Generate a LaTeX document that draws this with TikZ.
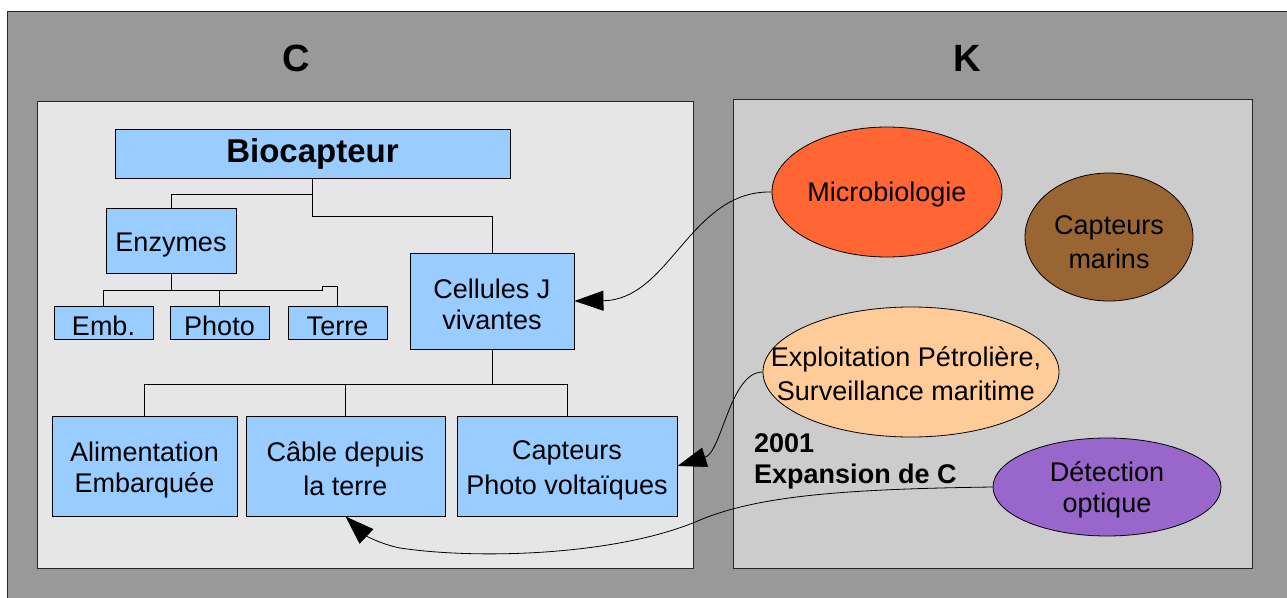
\documentclass[tikz,border=0pt]{standalone}
\usepackage{fontspec}
\setmainfont{Liberation Sans}
\usetikzlibrary{shapes.geometric,arrows.meta,calc}
\definecolor{outerg}{HTML}{999999}
\definecolor{cboxg}{HTML}{E6E6E6}
\definecolor{kboxg}{HTML}{CCCCCC}
\definecolor{boxblue}{HTML}{99CCFF}
\definecolor{microc}{HTML}{FF6633}
\definecolor{brownc}{HTML}{996633}
\definecolor{peachc}{HTML}{FFCC99}
\definecolor{purplec}{HTML}{9966CC}
\newcommand{\lst}{\rule[-3pt]{0pt}{31pt}}
\begin{document}
\begin{tikzpicture}[x=1pt,y=-1pt,
  txt/.style={font=\fontsize{27}{31}\selectfont, align=center, inner sep=0pt},
  bluebox/.style={draw=black, line width=0.9pt, fill=boxblue, txt},
  blob/.style={ellipse, draw=black, line width=0.8pt, inner sep=0pt},
  tree/.style={draw=black, line width=0.9pt},
  link/.style={draw=black, line width=0.8pt, -{Triangle[length=29pt,width=20pt]}},
  title/.style={font=\fontsize{38}{40}\selectfont\bfseries},
  panel/.style={draw=black!85, line width=1pt}
]
\useasboundingbox (0,0) rectangle (1287,597);
% outer frame
\fill[outerg, draw=black!85, line width=1pt] (7,11) rectangle (1300,610);
% panels
\filldraw[panel, fill=cboxg] (37,101) rectangle (693,568);
\filldraw[panel, fill=kboxg] (733,99) rectangle (1252,568);
% titles
\node[title] (tC) at (296,58) {C};
\node[title] (tK) at (967,58) {K};
% tree nodes
\node[bluebox, minimum width=395pt, minimum height=49pt, font=\fontsize{33}{36}\selectfont\bfseries] (bio) at (312.5,153.5) {Biocapteur};
\node[bluebox, minimum width=130pt, minimum height=65pt] (enz) at (171,240.5) {\lst Enzymes};
\node[bluebox, minimum width=99pt, minimum height=33pt] (emb) at (103.5,322.5) {\lst Emb.};
\node[bluebox, minimum width=99pt, minimum height=33pt] (pho) at (219.5,322.5) {\lst Photo};
\node[bluebox, minimum width=99pt, minimum height=33pt] (ter) at (337.5,322.5) {\lst Terre};
\node[bluebox, minimum width=164pt, minimum height=96pt] (cel) at (492,301) {\lst Cellules J\\\lst vivantes};
\node[bluebox, minimum width=185pt, minimum height=100pt] (ali) at (144.5,466) {\lst Alimentation\\\lst Embarquée};
\node[bluebox, minimum width=199pt, minimum height=100pt] (cab) at (345.5,466) {\lst Câble depuis\\\lst la terre};
\node[bluebox, minimum width=220pt, minimum height=100pt] (cap) at (567,466) {\lst Capteurs\\\lst Photo voltaïques};
% tree connectors
\draw[tree] (bio.south) -- ++(0,16) -| (enz.north);
\draw[tree] (bio.south) -- ++(0,38) -| (cel.north);
\draw[tree] (enz.south) -- ++(0,17) -| (emb.north);
\draw[tree] (enz.south) ++(0,17) -| (pho.north);
\draw[tree] (enz.south) ++(0,17) -- ++(151,0) -- ++(0,-4) -| (ter.north);
\draw[tree] (cel.south) -- ++(0,35) -| (ali.north);
\draw[tree] (cel.south) ++(0,35) -| (cab.north);
\draw[tree] (cel.south) ++(0,35) -| (cap.north);
% K ellipses
\node[blob, fill=microc, minimum width=230pt, minimum height=130pt] (mic) at (887,192) {};
\node[txt] (mict) at (887,190) {\lst Microbiologie};
\node[blob, fill=brownc, minimum width=168pt, minimum height=128pt] (mar) at (1109,237) {};
\node[txt] (mart) at (1109,239) {\lst Capteurs\\\lst marins};
\node[blob, fill=peachc, minimum width=296pt, minimum height=130pt] (exp) at (911,372) {};
\node[txt] (expt) at (906,371) {\lst Exploitation Pétrolière,\\\lst Surveillance maritime};
\node[blob, fill=purplec, minimum width=228pt, minimum height=98pt] (det) at (1107,487) {};
\node[txt] (dett) at (1107,486) {\lst Détection\\\lst optique};
\node[txt, font=\fontsize{27}{31}\selectfont\bfseries, align=left, anchor=west] (exc) at (754,456.5) {\lst 2001\\\lst Expansion de C};
% links
\draw[link] (mic.west) .. controls (690,190) and (670,300) .. (cel.east);
\draw[link] (exp.west) .. controls (730,372) and (722,452) .. (cap.east);
\draw[link] (det.west) .. controls (850,489) and (760,495) .. (700,520)
  .. controls (620,555) and (480,560) .. (400,548)
  .. controls (380,544) and (365,535) .. (cab.south);
\end{tikzpicture}
\end{document}
